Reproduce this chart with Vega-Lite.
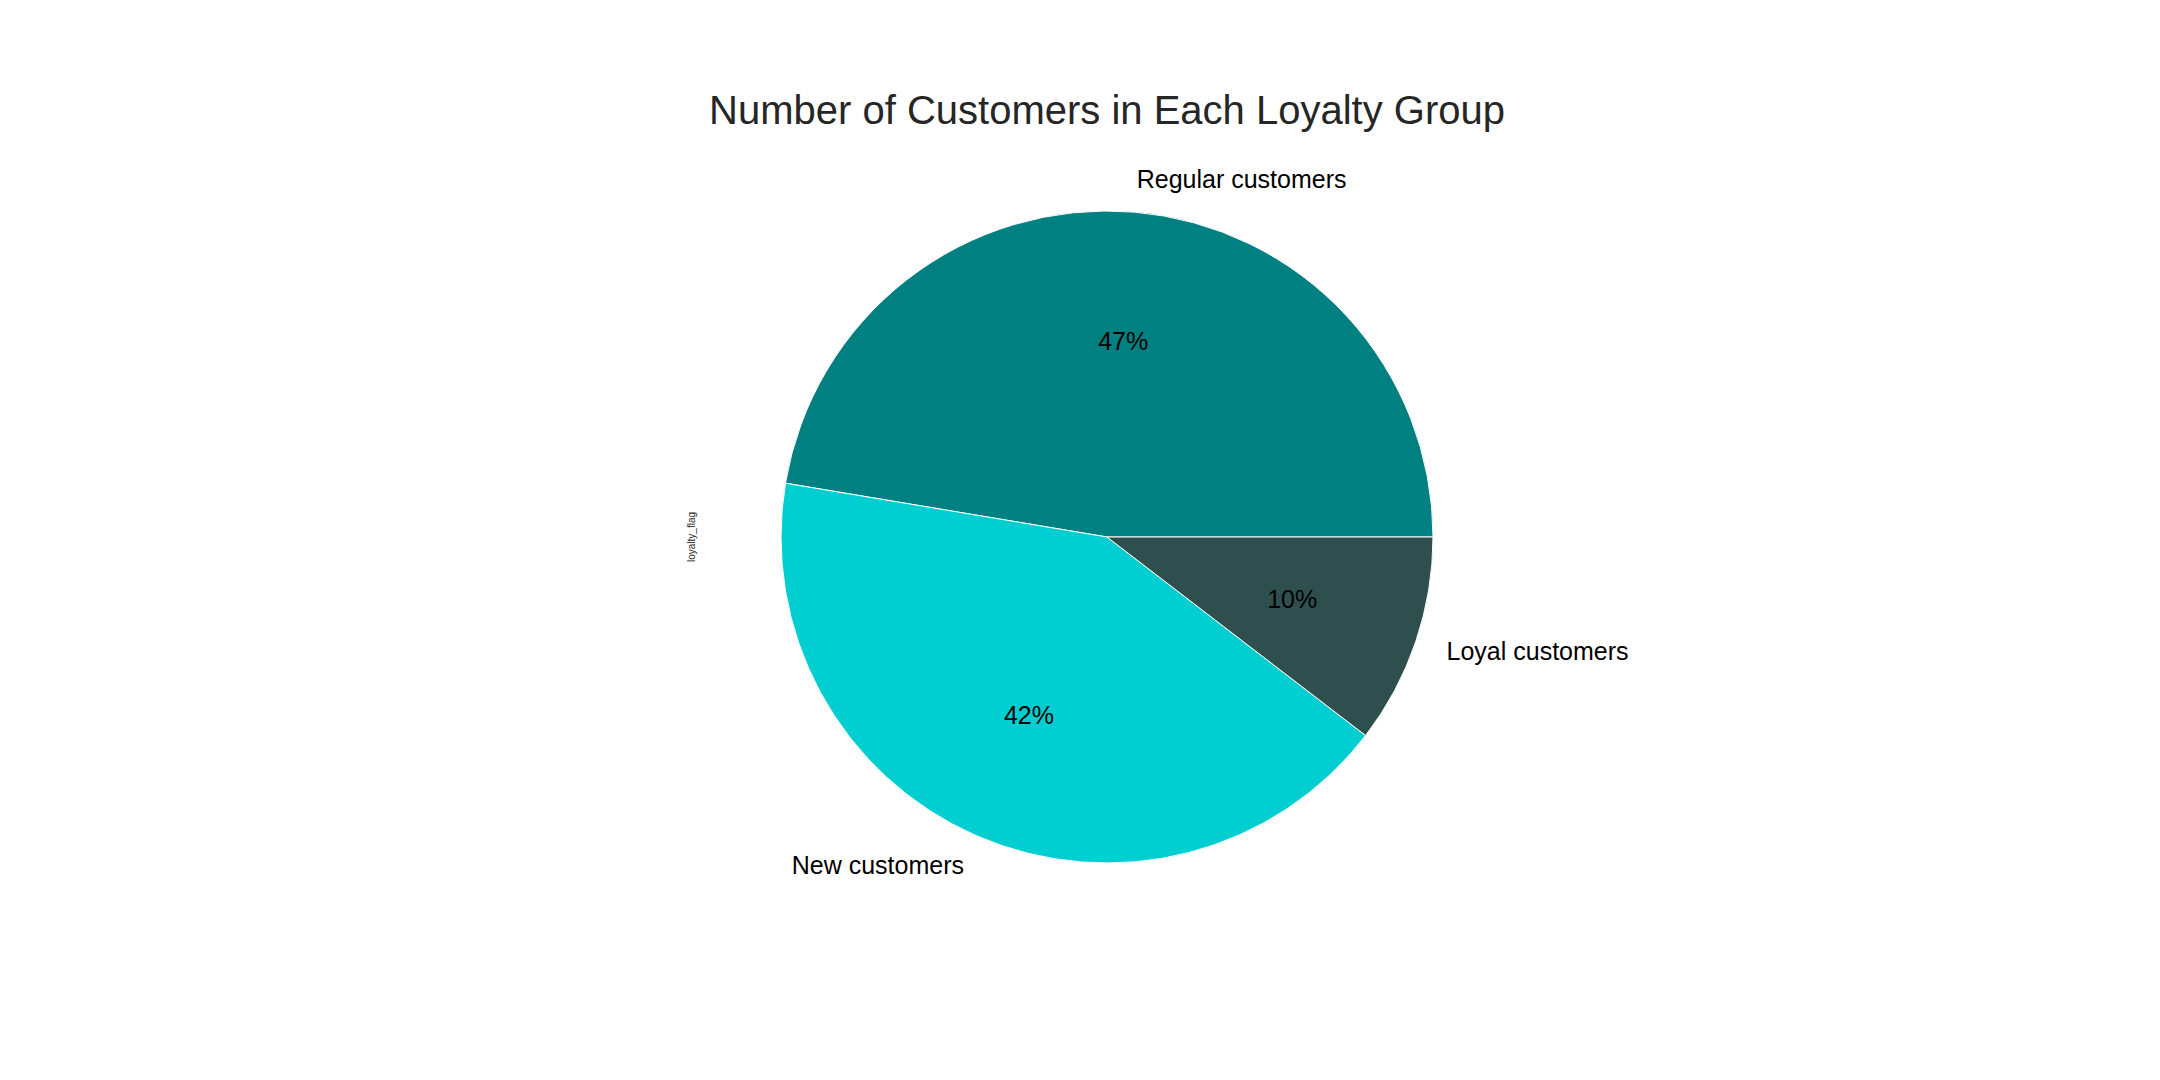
{
  "$schema": "https://vega.github.io/schema/vega-lite/v6.json",
  "width": 2106,
  "height": 1074,
  "autosize": {"type": "none"},
  "padding": {"left": 54, "right": 0, "top": 0, "bottom": 6},
  "background": "white",
  "config": {"view": {"stroke": null}, "font": "Liberation Sans"},
  "title": {
    "text": "Number of Customers in Each Loyalty Group",
    "fontSize": 40,
    "font": "Liberation Sans",
    "fontWeight": "normal",
    "color": "#262626",
    "anchor": "middle",
    "frame": "group",
    "baseline": "alphabetic",
    "offset": -164
  },
  "data": {
    "values": [
      {"loyalty_flag": "Regular customers", "customers": 4736},
      {"loyalty_flag": "New customers", "customers": 4222},
      {"loyalty_flag": "Loyal customers", "customers": 1042}
    ]
  },
  "transform": [
    {"joinaggregate": [{"op": "sum", "field": "customers", "as": "total"}]},
    {"calculate": "datum.customers / datum.total", "as": "share"},
    {"stack": "customers", "groupby": [], "as": ["s0", "s1"]},
    {"calculate": "(datum.s0 + datum.s1) / 2", "as": "mid"}
  ],
  "layer": [
    {
      "mark": {"type": "arc", "outerRadius": 326, "stroke": "white", "strokeWidth": 1},
      "encoding": {
        "theta": {"field": "s0", "type": "quantitative", "stack": null, "scale": {"domain": [0, 10000], "range": [1.5707963, -4.712389], "nice": false, "zero": true}},
        "theta2": {"field": "s1"},
        "color": {
          "field": "loyalty_flag",
          "type": "nominal",
          "sort": null,
          "scale": {"domain": ["Regular customers", "New customers", "Loyal customers"], "range": ["#008080", "#00CED1", "#2F4F4F"]},
          "legend": null
        }
      }
    },
    {
      "mark": {"type": "text", "radius": 195.6, "fontSize": 25, "color": "black", "align": "center", "baseline": "middle", "font": "Liberation Sans"},
      "encoding": {
        "theta": {"field": "mid", "type": "quantitative", "stack": null},
        "text": {"field": "share", "type": "quantitative", "format": ".0%"}
      }
    },
    {
      "transform": [{"filter": "datum.loyalty_flag != 'New customers'"}],
      "mark": {"type": "text", "radius": 358.6, "fontSize": 25, "color": "black", "align": "left", "baseline": "middle", "font": "Liberation Sans"},
      "encoding": {
        "theta": {"field": "mid", "type": "quantitative", "stack": null},
        "text": {"field": "loyalty_flag", "type": "nominal"}
      }
    },
    {
      "transform": [{"filter": "datum.loyalty_flag == 'New customers'"}],
      "mark": {"type": "text", "radius": 358.6, "fontSize": 25, "color": "black", "align": "right", "baseline": "middle", "font": "Liberation Sans"},
      "encoding": {
        "theta": {"field": "mid", "type": "quantitative", "stack": null},
        "text": {"field": "loyalty_flag", "type": "nominal"}
      }
    },
    {
      "data": {"values": [{"label": "loyalty_flag"}]},
      "mark": {"type": "text", "theta": -1.5707963, "radius": 415, "angle": 270, "fontSize": 10, "color": "#262626", "align": "center", "baseline": "middle", "font": "Liberation Sans"},
      "encoding": {
        "text": {"field": "label", "type": "nominal"}
      }
    }
  ]
}
